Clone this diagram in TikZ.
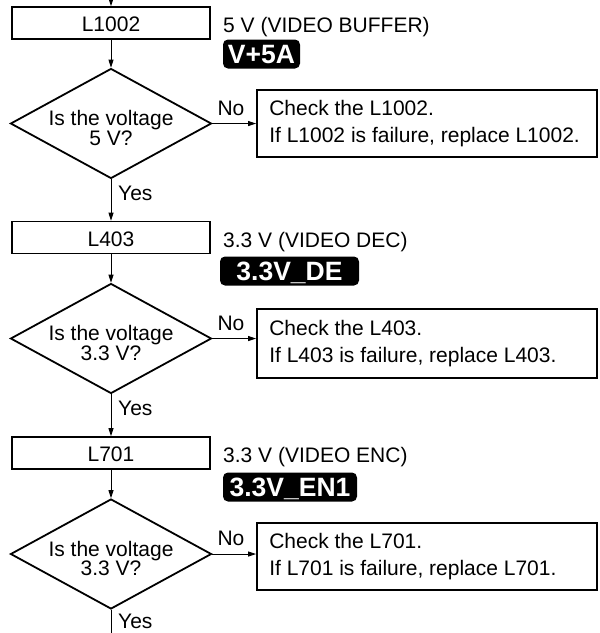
\documentclass[tikz,border=0pt]{standalone}
\usepackage{fontspec}
\setmainfont{Liberation Sans}
\usetikzlibrary{arrows.meta,shapes.geometric}
\begin{document}
\begin{tikzpicture}[x=1pt,y=-1pt,
  regtext/.style={inner sep=0pt, font=\fontsize{21}{27}\selectfont},
  lbox/.style={draw, line width=1.8pt, minimum width=198pt, minimum height=32pt, inner sep=0pt, text height=17pt, text depth=0pt, font=\fontsize{21}{27}\selectfont},
  dia/.style={draw, diamond, line width=1.8pt, minimum width=201pt, minimum height=110pt, inner sep=0pt},
  dtext/.style={align=center, inner sep=0pt, font=\fontsize{21}{19.5}\selectfont},
  act/.style={draw, line width=1.8pt, minimum height=67pt, minimum width=340pt, inner sep=0pt},
  acttext/.style={anchor=west, xshift=13pt, align=left, inner sep=0pt, font=\fontsize{21}{27}\selectfont},
  tag/.style={fill=black, rounded corners=5pt, text=white, inner sep=0pt, font=\bfseries\fontsize{26.5}{30}\selectfont, minimum height=29pt, text height=19pt, text depth=0pt},
  arr/.style={line width=0.9pt, -{Triangle[length=8pt,width=5pt]}},
  ln/.style={line width=0.9pt},
]
\useasboundingbox (0,0) rectangle (600,633);

% Block 1
\coordinate (top) at (111,0);
\node[lbox] (b1) at (111,23) {L1002};
\node[regtext, anchor=base west] (s1) at (223,32) {5 V (VIDEO BUFFER)};
\node[tag, minimum width=77pt] (t1) at (261.5,54) {V+5A};
\node[dia] (d1) at (111,123.5) {};
\node[dtext] (q1) at (111,128) {Is the voltage\\5 V?};
\node[act] (a1) at (427,123.5) {};
\node[acttext] (c1) at (a1.west) {Check the L1002.\\If L1002 is failure, replace L1002.};
\node[regtext] (n1) at (231,108) {No};
\node[regtext, anchor=west] (y1) at (118,193) {Yes};
\draw[arr] (top) -- (b1.north);
\draw[arr] (b1.south) -- (d1.north);
\draw[arr] (d1.east) -- (d1.east -| a1.west);

% Block 2
\node[lbox] (b2) at (111,237.5) {L403};
\node[regtext, anchor=base west] (s2) at (223,247.5) {3.3 V (VIDEO DEC)};
\node[tag, minimum width=139pt] (t2) at (289.5,271) {3.3V\_DE};
\node[dia] (d2) at (111,338.5) {};
\node[dtext] (q2) at (111,343) {Is the voltage\\3.3 V?};
\node[act, minimum height=69pt] (a2) at (427,343.5) {};
\node[acttext] (c2) at (a2.west) {Check the L403.\\If L403 is failure, replace L403.};
\node[regtext] (n2) at (231,323) {No};
\node[regtext, anchor=west] (y2) at (118,408) {Yes};
\draw[arr] (d1.south) -- (b2.north);
\draw[arr] (b2.south) -- (d2.north);
\draw[arr] (d2.east) -- (d2.east -| a2.west);

% Block 3
\node[lbox] (b3) at (111,453) {L701};
\node[regtext, anchor=base west] (s3) at (223,462.5) {3.3 V (VIDEO ENC)};
\node[tag, minimum width=134pt] (t3) at (290,487) {3.3V\_EN1};
\node[dia] (d3) at (111,554) {};
\node[dtext] (q3) at (111,558.5) {Is the voltage\\3.3 V?};
\node[act] (a3) at (427,556.5) {};
\node[acttext] (c3) at (a3.west) {Check the L701.\\If L701 is failure, replace L701.};
\node[regtext] (n3) at (231,538.5) {No};
\node[regtext, anchor=west] (y3) at (118,621.5) {Yes};
\coordinate (bot) at (111,633);
\draw[arr] (d2.south) -- (b3.north);
\draw[arr] (b3.south) -- (d3.north);
\draw[arr] (d3.east) -- (d3.east -| a3.west);
\draw[ln] (d3.south) -- (bot);
\end{tikzpicture}
\end{document}
